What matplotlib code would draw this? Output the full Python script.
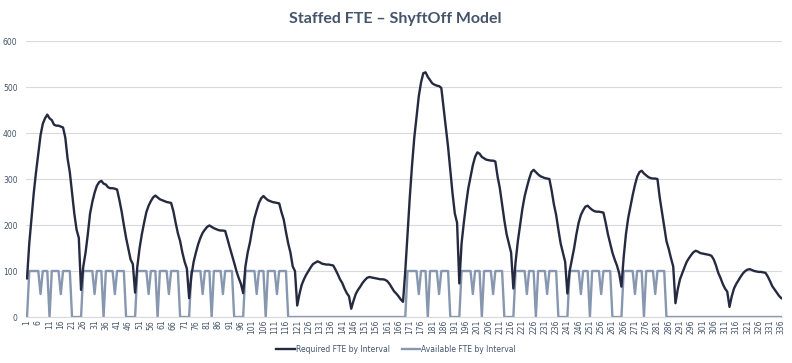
"""
  Staffed FTE - ShyftOff model: required vs available FTE per interval
"""
import matplotlib
matplotlib.use('Agg')
import matplotlib.pyplot as plt

# required FTE, one row per day (24 intervals each)
req_day1 = [84, 160, 215, 270, 315, 355, 395, 420, 432, 440, 432, 428,
            418, 416, 416, 414, 412, 390, 345, 315, 270, 225, 190, 172]
req_day2 = [59, 110, 140, 180, 225, 250, 270, 285, 293, 296, 290, 288,
            282, 280, 280, 279, 277, 255, 230, 200, 172, 148, 125, 115]
req_day3 = [53, 110, 150, 180, 205, 228, 242, 252, 260, 264, 260, 256,
            254, 252, 250, 249, 248, 230, 205, 182, 165, 140, 120, 105]
req_day4 = [41, 90, 120, 140, 158, 172, 183, 190, 196, 199, 196, 193,
            191, 189, 188, 188, 187, 170, 152, 135, 118, 100, 85, 72]
req_day5 = [52, 110, 140, 162, 190, 215, 232, 248, 258, 263, 258, 254,
            252, 250, 249, 248, 247, 228, 212, 185, 160, 140, 110, 100]
req_day6 = [25, 50, 70, 82, 92, 100, 108, 115, 118, 121, 119, 116,
            115, 114, 114, 113, 112, 103, 93, 82, 74, 62, 52, 45]
req_day7 = [18, 35, 50, 59, 66, 74, 80, 85, 87, 86, 85, 84,
            83, 82, 82, 81, 78, 72, 64, 56, 51, 45, 38, 33]
req_day8 = [100, 180, 260, 330, 390, 435, 480, 510, 530, 532, 522, 515,
            508, 505, 503, 502, 498, 455, 410, 370, 320, 268, 225, 205]
req_day9 = [73, 160, 205, 245, 280, 305, 330, 348, 358, 355, 348, 345,
            342, 341, 340, 340, 338, 305, 280, 245, 210, 180, 160, 140]
req_day10 = [62, 120, 165, 200, 235, 262, 282, 300, 315, 320, 315, 310,
             306, 304, 302, 301, 300, 275, 245, 222, 190, 160, 140, 120]
req_day11 = [51, 100, 125, 150, 180, 205, 222, 232, 240, 242, 237, 233,
             230, 229, 229, 228, 227, 205, 180, 160, 140, 125, 112, 95]
req_day12 = [66, 130, 180, 215, 240, 265, 287, 305, 315, 318, 312, 308,
             304, 302, 301, 301, 300, 260, 228, 195, 165, 148, 128, 110]
req_day13 = [30, 60, 82, 95, 108, 120, 128, 135, 141, 144, 142, 139,
             138, 137, 136, 135, 133, 125, 112, 96, 85, 72, 62, 55]
req_day14 = [22, 45, 62, 72, 80, 88, 95, 100, 103, 104, 102, 100,
             99, 98, 98, 97, 96, 88, 78, 67, 60, 53, 46, 41]

# available FTE: weekday shift pattern, nobody scheduled on weekends
avail_weekday = [0, 100, 100, 100, 100, 100, 50, 100, 100, 100, 0, 100,
                 100, 100, 100, 50, 100, 100, 100, 100, 0, 0, 0, 0]
avail_weekend = [0] * 24

required_fte = (req_day1 + req_day2 + req_day3 + req_day4 + req_day5 + req_day6 + req_day7
                + req_day8 + req_day9 + req_day10 + req_day11 + req_day12 + req_day13 + req_day14)
available_fte = avail_weekday * 5 + avail_weekend * 2 + avail_weekday * 5 + avail_weekend * 2
intervals = list(range(1, len(required_fte) + 1))
tick_intervals = intervals[::5]

TEXT = '#44546a'
GRID = '#d9d9e0'


def main():
    fig = plt.figure(figsize=(7.92, 3.63), dpi=100)
    ax = fig.add_axes([0.0327, 0.1267, 0.9552, 0.7603])

    ax.plot(intervals, required_fte, color='#252a40', lw=1.7,
            solid_joinstyle='round', label='Required FTE by Interval', zorder=3)
    ax.plot(intervals, available_fte, color='#8797b0', lw=1.7,
            solid_joinstyle='round', label='Available FTE by Interval', zorder=2)

    ax.set_xlim(0.5, 336.5)
    ax.set_ylim(0, 600)
    ax.set_yticks(range(0, 601, 100))
    ax.set_xticks(tick_intervals)
    ax.set_xticklabels([str(i) for i in tick_intervals], rotation=90)
    ax.tick_params(axis='both', length=0, labelsize=5.5, labelcolor=TEXT)
    ax.tick_params(axis='x', pad=2)
    ax.tick_params(axis='y', pad=6)
    ax.grid(axis='y', color=GRID, lw=0.8)
    ax.set_axisbelow(True)
    for side in ('top', 'right', 'left'):
        ax.spines[side].set_visible(False)
    ax.spines['bottom'].set_color(GRID)

    fig.suptitle('Staffed FTE \u2013 ShyftOff Model', x=0.499, y=0.968,
                 fontsize=11.5, fontweight='bold', color=TEXT, family='Lato')

    fig.legend(loc='center', bbox_to_anchor=(0.5, 0.038), ncol=2, frameon=False,
               fontsize=5.5, labelcolor=TEXT, handlelength=2.4, handletextpad=0.1,
               columnspacing=1.6)

    fig.savefig('out.png', dpi=100)


if __name__ == "__main__":
    main()
